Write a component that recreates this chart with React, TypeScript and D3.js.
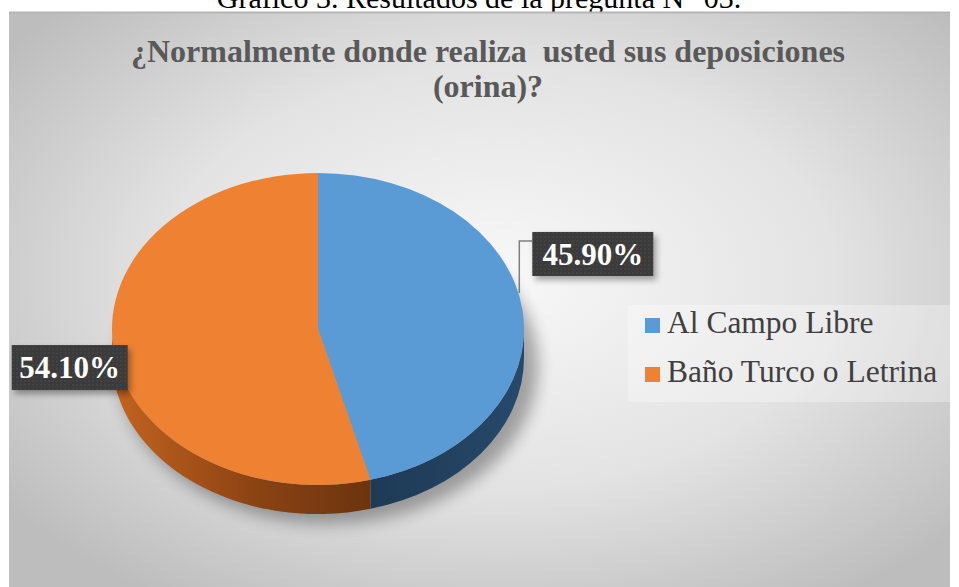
import React from 'react';
import * as d3 from 'd3';

const categories = ["Al Campo Libre", "Baño Turco o Letrina"];
const values = [45.9, 54.1];
const labelTexts = ["45.90%", "54.10%"];
const topColors = ["#5B9BD5", "#EF8232"];
const titleLines = ["¿Normalmente donde realiza  usted sus deposiciones", "(orina)?"];
const caption = "Gráfico 3. Resultados de la pregunta N° 03.";

const FONT = '"Liberation Serif", "Times New Roman", serif';

export default function App() {
  const W = 959, H = 587;
  const cx = 318, cy = 329, rx = 206, ry = 156, depth = 29;
  const arcs = d3.pie<number>().sort(null).startAngle(0).endAngle(2 * Math.PI)(values);
  const pt = (a: number, dy = 0): [number, number] => [cx + rx * Math.sin(a), cy - ry * Math.cos(a) + dy];

  const topPath = (a0: number, a1: number) => {
    const p0 = pt(a0), p1 = pt(a1);
    const large = a1 - a0 > Math.PI ? 1 : 0;
    return `M${cx},${cy}L${p0[0]},${p0[1]}A${rx},${ry} 0 ${large} 1 ${p1[0]},${p1[1]}Z`;
  };
  const sidePath = (a0: number, a1: number) => {
    const s0 = Math.max(a0, Math.PI / 2), s1 = Math.min(a1, 1.5 * Math.PI);
    if (s1 <= s0) return null;
    const p0 = pt(s0), p1 = pt(s1), q1 = pt(s1, depth), q0 = pt(s0, depth);
    return `M${p0[0]},${p0[1]}A${rx},${ry} 0 0 1 ${p1[0]},${p1[1]}L${q1[0]},${q1[1]}A${rx},${ry} 0 0 0 ${q0[0]},${q0[1]}Z`;
  };

  const sideFills = ["url(#sideBlue)", "url(#sideOrange)"];

  const labelBoxes = arcs.map((a, i) => {
    const mid = (a.startAngle + a.endAngle) / 2;
    const anc = pt(mid);
    if (i === 0) {
      return { anc, x: anc[0] + 10, y: anc[1] - 77, w: 121, h: 44, leader: true };
    }
    return { anc, x: anc[0] - 102, y: anc[1] - 4, w: 116, h: 45, leader: false };
  });

  return (
    <svg width={W} height={H} style={{ position: 'absolute', left: 0, top: 0, background: '#fff' }} xmlns="http://www.w3.org/2000/svg">
      <defs>
        <radialGradient id="bg" cx="52%" cy="45%" r="65%">
          <stop offset="0%" stopColor="#f8f8f8" />
          <stop offset="55%" stopColor="#e3e3e3" />
          <stop offset="100%" stopColor="#bdbdbd" />
        </radialGradient>
        <linearGradient id="sideOrange" x1={cx - rx} x2={cx + 60} y1="0" y2="0" gradientUnits="userSpaceOnUse">
          <stop offset="0%" stopColor="#C4631F" />
          <stop offset="55%" stopColor="#8A4313" />
          <stop offset="100%" stopColor="#6A330E" />
        </linearGradient>
        <linearGradient id="sideBlue" x1={cx + 55} x2={cx + rx} y1="0" y2="0" gradientUnits="userSpaceOnUse">
          <stop offset="0%" stopColor="#1E3A55" />
          <stop offset="100%" stopColor="#27496B" />
        </linearGradient>
        <filter id="pieShadow" x="-20%" y="-20%" width="140%" height="150%">
          <feGaussianBlur stdDeviation="8" />
        </filter>
        <filter id="boxShadow" x="-20%" y="-20%" width="150%" height="160%">
          <feDropShadow dx="3" dy="4" stdDeviation="3" floodColor="#000" floodOpacity="0.35" />
        </filter>
        <pattern id="dots" width="4" height="4" patternUnits="userSpaceOnUse">
          <rect width="4" height="4" fill="#3a3a3a" />
          <circle cx="1" cy="1" r="0.8" fill="#4e4e4e" />
        </pattern>
      </defs>

      {/* caption */}
      <text x={479} y={8} textAnchor="middle" fontFamily={FONT} fontSize={30} fill="#000">{caption}</text>

      {/* chart area */}
      <rect x={9} y={12} width={941} height={590} fill="url(#bg)" />
      <line x1={9} x2={950} y1={12.5} y2={12.5} stroke="#b5b5b5" strokeWidth={2} />

      {/* title */}
      {titleLines.map((t, i) => (
        <text key={i} x={488} y={62 + i * 35} textAnchor="middle" fontFamily={FONT} fontWeight="bold" fontSize={32} fill="#595959" xmlSpace="preserve">{t}</text>
      ))}

      {/* pie shadow */}
      <ellipse cx={cx + 10} cy={cy + depth + 8} rx={rx + 4} ry={ry + 2} fill="#000" opacity={0.32} filter="url(#pieShadow)" />

      {/* sides */}
      {arcs.map((a, i) => {
        const d = sidePath(a.startAngle, a.endAngle);
        return d ? <path key={'s' + i} d={d} fill={sideFills[i]} /> : null;
      })}

      {/* tops */}
      {arcs.map((a, i) => (
        <path key={'t' + i} d={topPath(a.startAngle, a.endAngle)} fill={topColors[i]} />
      ))}

      {/* labels */}
      {labelBoxes.map((b, i) => (
        <g key={'l' + i}>
          {b.leader && (
            <polyline points={`${b.anc[0] - 3},${b.anc[1] - 16} ${b.x - 13},${b.anc[1] - 16} ${b.x - 13},${b.y + 9} ${b.x},${b.y + 9}`} fill="none" stroke="#7f7f7f" strokeWidth={1.5} />
          )}
          <rect x={b.x} y={b.y} width={b.w} height={b.h} fill="url(#dots)" filter="url(#boxShadow)" />
          <text x={b.x + b.w / 2} y={b.y + 33} textAnchor="middle" fontFamily={FONT} fontWeight="bold" fontSize={31} fill="#fff">{labelTexts[i]}</text>
        </g>
      ))}

      {/* legend */}
      <rect x={628} y={305} width={322} height={97} fill="#fff" opacity={0.3} />
      {categories.map((c, i) => (
        <g key={'g' + i}>
          <rect x={645} y={318 + i * 49} width={15} height={15} fill={topColors[i]} />
          <text x={667} y={333 + i * 49} fontFamily={FONT} fontSize={31.5} fill="#404040">{c}</text>
        </g>
      ))}
    </svg>
  );
}
